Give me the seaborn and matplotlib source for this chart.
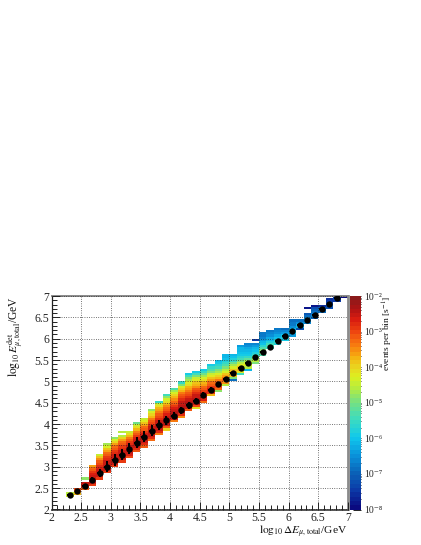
import numpy as np
import pandas as pd
import matplotlib
matplotlib.use("Agg")
import matplotlib.pyplot as plt
from matplotlib.colors import LinearSegmentedColormap
import seaborn as sns

# Centre of each deposited-energy column (log10 GeV)
col_x = [2.3125, 2.4375, 2.5625, 2.6875, 2.8125, 2.9375, 3.0625, 3.1875, 3.3125, 3.4375,
         3.5625, 3.6875, 3.8125, 3.9375, 4.0625, 4.1875, 4.3125, 4.4375, 4.5625, 4.6875,
         4.8125, 4.9375, 5.0625, 5.1875, 5.3125, 5.4375, 5.5625, 5.6875, 5.8125, 5.9375,
         6.0625, 6.1875, 6.3125, 6.4375, 6.5625, 6.6875, 6.8125, 6.9375]
# Lower edge of the first filled y bin in each column
col_start = [2.30, 2.35, 2.45, 2.55, 2.70, 2.85, 3.00, 3.10, 3.20, 3.35,
             3.45, 3.60, 3.75, 3.85, 4.05, 4.15, 4.30, 4.35, 4.50, 4.65,
             4.75, 4.90, 5.00, 5.15, 5.25, 5.40, 5.60, 5.75, 5.85, 5.95,
             6.05, 6.20, 6.35, 6.45, 6.60, 6.70, 6.85, 6.95]
# log10(events per bin) upward from col_start in steps of 0.05; None = empty
col_log_rate = [
    [-4.4, -4.6],
    [-3.7, -3.2, -3.0],
    [-3.2, -2.8, -2.5, -2.6, None, -4.8],
    [-2.9, -2.6, -2.5, -2.5, -2.6, -2.7, -2.9, -3.1, -3.3, -3.6],
    [-2.9, -2.6, -2.5, -2.5, -2.5, -2.7, -2.8, -3.0, -3.2, -3.5, -3.9, -4.5],
    [-2.9, -2.6, -2.5, -2.5, -2.5, -2.6, -2.8, -2.9, -3.1, -3.3, -3.6, -3.9, -4.3, -4.7],
    [-2.9, -2.6, -2.5, -2.5, -2.5, -2.6, -2.8, -2.9, -3.1, -3.3, -3.6, -4.0, -4.4, -4.8],
    [-2.9, -2.6, -2.5, -2.5, -2.5, -2.6, -2.8, -2.9, -3.1, -3.3, -3.6, -4.0, -4.6, None, -4.6],
    [-3.0, -2.7, -2.5, -2.5, -2.5, -2.6, -2.8, -2.9, -3.1, -3.4, -3.7, -4.1, -4.5],
    [-3.2, -2.8, -2.6, -2.5, -2.5, -2.6, -2.7, -2.9, -3.1, -3.4, -3.7, -4.1, -4.5, -5.1],
    [-3.2, -2.8, -2.6, -2.5, -2.5, -2.5, -2.7, -2.9, -3.1, -3.3, -3.6, -3.9, -4.2, -4.5],
    [-3.3, -2.8, -2.6, -2.5, -2.4, -2.5, -2.6, -2.8, -3.0, -3.2, -3.4, -3.7, -4.0, -4.3, -4.8],
    [-3.4, -2.8, -2.5, -2.4, -2.4, -2.5, -2.6, -2.8, -3.0, -3.2, -3.4, -3.6, -3.8, -4.1, -4.5, -5.6],
    [-4.0, -3.1, -2.6, -2.4, -2.4, -2.4, -2.5, -2.7, -2.9, -3.1, -3.3, -3.5, -3.8, -4.1, -4.4, -4.8, -5.4],
    [-3.4, -2.7, -2.4, -2.4, -2.4, -2.5, -2.7, -2.9, -3.1, -3.3, -3.5, -3.7, -4.0, -4.3, -4.7, -5.3],
    [-3.5, -2.8, -2.5, -2.4, -2.4, -2.4, -2.5, -2.6, -2.8, -3.0, -3.2, -3.4, -3.7, -4.0, -4.4, -4.9, -5.5],
    [-3.2, -2.6, -2.4, -2.4, -2.4, -2.6, -2.8, -3.0, -3.2, -3.4, -3.6, -3.8, -4.1, -4.4, -4.7, -5.0, -5.4, -5.9],
    [-4.1, -3.0, -2.6, -2.4, -2.4, -2.5, -2.6, -2.8, -3.0, -3.2, -3.5, -3.7, -3.9, -4.2, -4.5, -4.9, -5.4, -5.9],
    [-3.3, -2.7, -2.5, -2.5, -2.7, -2.9, -3.1, -3.3, -3.6, -3.8, -4.1, -4.4, -4.7, -5.1, -5.5, -5.9],
    [-3.8, -2.9, -2.7, -2.7, -2.9, -3.1, -3.3, -3.6, -3.9, -4.2, -4.5, -4.9, -5.3, -5.6, -5.9],
    [-4.8, -3.3, -3.0, -3.0, -3.2, -3.4, -3.7, -4.0, -4.3, -4.7, -5.0, -5.4, -5.7, -5.9, -6.0],
    [-4.6, -3.5, -3.2, -3.3, -3.6, -3.9, -4.3, -4.6, -5.0, -5.3, -5.6, -5.8, -6.0, -6.1, -6.2],
    [-6.9, -4.9, -3.9, -3.7, -3.7, -3.9, -4.3, -4.7, -5.1, -5.5, -5.8, -6.0, -6.2],
    [-5.4, -4.2, -3.8, -3.9, -4.2, -4.6, -5.0, -5.4, -5.7, -5.9, -6.0, -6.1, -6.2, -6.4],
    [-6.1, -4.6, -4.2, -4.3, -4.7, -5.2, -5.6, -5.9, -6.0, -6.1, -6.3, -6.5, -6.6],
    [-5.0, -4.6, -4.6, -5.0, -5.5, -5.8, -6.0, -6.2, -6.4, -6.6, None, -7.4],
    [-5.3, -4.9, -4.9, -5.3, -5.7, -6.0, -6.2, -6.4, -6.6, -6.7, -6.8],
    [-5.5, -5.3, -5.4, -5.8, -6.1, -6.3, -6.5, -6.6, -6.8],
    [-5.8, -5.6, -5.7, -6.0, -6.3, -6.5, -6.6, -6.8],
    [-5.9, -5.8, -6.0, -6.4, -6.6, -6.9],
    [-6.4, -6.0, -6.0, -6.2, -6.5, -6.7, -6.8, -6.9],
    [-7.2, -6.2, -6.2, -6.5, -6.9],
    [-6.6, -6.5, -6.6, -6.9, -7.1, None, None, -7.8],
    [-7.0, -6.6, -6.7, -6.9, -7.0, -7.2, -7.8],
    [-6.9, -6.9, -7.1, -7.6],
    [-7.2, -7.1, -7.3, -7.5, -7.6],
    [-7.4, -7.3, -7.5],
    [-7.9],
]

# Profile points (mean reconstructed energy per column)
point_x = col_x[:37]
point_y = [2.35, 2.43, 2.56, 2.69, 2.85, 3.00, 3.16, 3.28, 3.42, 3.56,
           3.70, 3.85, 3.98, 4.09, 4.20, 4.32, 4.44, 4.55, 4.69, 4.81,
           4.93, 5.06, 5.19, 5.32, 5.44, 5.57, 5.69, 5.81, 5.94, 6.06,
           6.19, 6.32, 6.44, 6.55, 6.69, 6.81, 6.95]
point_yerr = [0.02, 0.03, 0.04, 0.06, 0.09, 0.13, 0.13, 0.13, 0.13, 0.13,
              0.13, 0.12, 0.12, 0.10, 0.09, 0.09, 0.08, 0.07, 0.06, 0.05,
              0.04, 0.04, 0.04, 0.04, 0.04, 0.04, 0.03, 0.03, 0.03, 0.03,
              0.03, 0.03, 0.03, 0.03, 0.03, 0.03, 0.03]

major_ticks = [2, 2.5, 3, 3.5, 4, 4.5, 5, 5.5, 6, 6.5, 7]
major_labels = ["2", "2.5", "3", "3.5", "4", "4.5", "5", "5.5", "6", "6.5", "7"]
cbar_exponents = [-8, -7, -6, -5, -4, -3, -2]
cbar_labels = ["10⁻⁸", "10⁻⁷", "10⁻⁶", "10⁻⁵", "10⁻⁴", "10⁻³", "10⁻²"]

sns.set_style("white")
plt.rcParams["font.family"] = ["Liberation Serif", "DejaVu Sans"]
plt.rcParams["mathtext.fontset"] = "stix"

W, H = 421, 545
fig = plt.figure(figsize=(W / 100, H / 100), dpi=100)
L, R, T, B = 51.5, 348, 296, 509.5
ax = fig.add_axes([L / W, 1 - B / H, (R - L) / W, (B - T) / H])
cax = fig.add_axes([350 / W, 1 - B / H, 11 / W, (B - T) / H])

rows = []
for x, start, vals in zip(col_x, col_start, col_log_rate):
    for k, v in enumerate(vals):
        if v is not None:
            rows.append((x, start + 0.05 * k + 0.025, v + 8))
df = pd.DataFrame(rows, columns=["x", "y", "decades"])

palette = ["#0a0a80", "#0c3aa8", "#0a64b8", "#0a94dc", "#10c8ec", "#3cdcc0", "#74e084",
           "#b4ec40", "#dcf020", "#e8d820", "#f6b010", "#f88010", "#f04a10", "#d81c10",
           "#b01414", "#8a1a1a"]
stops = [0, .08, .167, .25, .333, .42, .5, .57, .62, .667, .72, .77, .833, .90, .95, 1]
smooth = LinearSegmentedColormap.from_list("root", list(zip(stops, palette)), N=256)
cmap = matplotlib.colors.ListedColormap(smooth(np.linspace(0, 1, 50)))

xedges = np.arange(2, 7.0001, 0.125)
yedges = np.arange(2, 7.0001, 0.05)
sns.histplot(data=df, x="x", y="y", weights="decades", bins=(xedges, yedges), cmap=cmap,
             vmin=0, vmax=6, cbar=True, cbar_ax=cax, ax=ax, zorder=1)

ax.errorbar(point_x, point_y, yerr=point_yerr, xerr=0.045, fmt="none", ecolor="black",
            elinewidth=1.4, zorder=4)
sns.scatterplot(x=point_x, y=point_y, color="black", s=21, linewidth=0, ax=ax, zorder=5)

ax.set_xlim(2, 7)
ax.set_ylim(2, 7)
ax.set_xlabel("")
ax.set_ylabel("")
ax.set_xticks(major_ticks)
ax.set_xticklabels(major_labels)
ax.set_yticks(major_ticks)
ax.set_yticklabels(major_labels)
ax.set_xticks(np.arange(2, 7.001, 0.1), minor=True)
ax.set_yticks(np.arange(2, 7.001, 0.1), minor=True)
ax.set_axisbelow(False)
ax.grid(True, which="major", color="#222222", linestyle=(0, (1, 2)), linewidth=0.55, zorder=3)
ax.tick_params(which="major", direction="in", length=6, width=0.7, color="#222222",
               labelsize=8.5, pad=1.5, left=True, bottom=True, top=False, right=False)
ax.tick_params(which="minor", direction="in", length=3.4, width=0.7, color="#222222",
               left=True, bottom=True, top=False, right=False)
for side, col, lw in [("left", "#222222", 0.9), ("bottom", "#555555", 1.4),
                      ("top", "#8a8a8a", 1.4), ("right", "#8a8a8a", 2.0)]:
    ax.spines[side].set_visible(True)
    ax.spines[side].set_color(col)
    ax.spines[side].set_linewidth(lw)

cax.set_ylim(0, 6)
cax.yaxis.set_ticks_position("right")
cax.set_yticks([e + 8 for e in cbar_exponents])
cax.set_yticklabels(cbar_labels)
minor = [np.log10(m) + d for d in range(6) for m in range(2, 10)]
cax.set_yticks(minor, minor=True)
cax.tick_params(which="major", direction="in", length=5.5, width=0.6, color="black",
                labelsize=7, pad=2, right=True, left=False)
cax.tick_params(which="minor", direction="in", length=3, width=0.6, color="black",
                right=True, left=False)
for s in cax.spines.values():
    s.set_visible(False)

fig.text(347.5 / W, 1 - 532 / H, r"$\log_{10}\Delta E_{\mu,\mathrm{total}}$/GeV",
         ha="right", va="center", fontsize=8.2, color="#111111")
fig.text(15 / W, 1 - 296 / H, r"$\log_{10}E_{\mu,\mathrm{total}}^{\mathrm{det}}$/GeV",
         rotation=90, ha="center", va="top", fontsize=8.3, color="#111111")
fig.text(388 / W, 1 - 296 / H, r"events per bin [s$^{-1}$]",
         rotation=90, ha="center", va="top", fontsize=6.8, color="#111111")

fig.savefig("out.png", dpi=100, facecolor="white")
